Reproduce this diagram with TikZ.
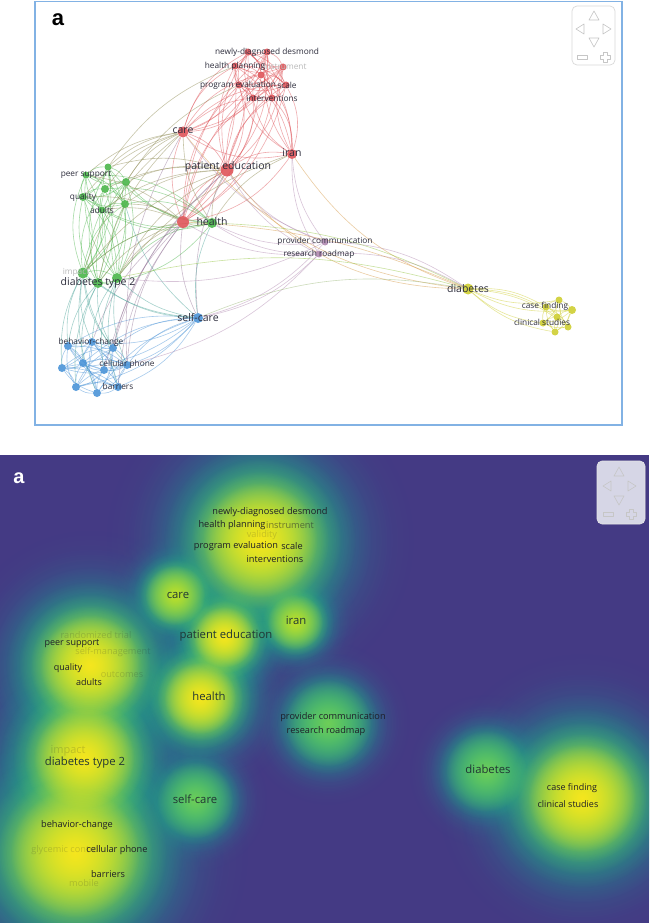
\documentclass[tikz,border=0pt]{standalone}
\usepackage{fontspec}
\setmainfont{Open Sans}
\newfontfamily\arialfont{Liberation Sans}
\usetikzlibrary{fadings}
\pgfdeclarelayer{back}
\pgfdeclarelayer{bg}
\pgfsetlayers{back,bg,main}
\definecolor{vred}{RGB}{222,80,85}
\definecolor{vgreen}{RGB}{70,180,70}
\definecolor{vblue}{RGB}{70,145,215}
\definecolor{vyellow}{RGB}{205,205,45}
\definecolor{vpurple}{RGB}{175,135,175}
\definecolor{frameblue}{RGB}{130,178,228}
\definecolor{lbl}{RGB}{45,45,60}
\definecolor{dbg}{RGB}{68,58,132}
\definecolor{vc0}{RGB}{59,86,139}
\definecolor{vc1}{RGB}{44,114,142}
\definecolor{vc2}{RGB}{33,145,140}
\definecolor{vc3}{RGB}{45,180,122}
\definecolor{vc4}{RGB}{110,206,88}
\definecolor{vc5}{RGB}{190,223,40}
\definecolor{vc6}{RGB}{245,230,30}
\definecolor{dtext}{RGB}{30,30,40}
\definecolor{wid}{RGB}{214,214,230}
\colorlet{rg}{vgreen!55!vred}
\colorlet{rb}{vred!50!vblue}
\colorlet{gb}{vgreen!45!vblue}
\colorlet{ry}{vred!45!vyellow}
\colorlet{gy}{vgreen!45!vyellow}
\colorlet{by}{vblue!40!vyellow}
\tikzfading[name=fo, inner color=transparent!0, outer color=transparent!100]
\newcommand\clique[3]{\foreach \a [count=\i] in {#1}{\foreach \b [count=\j] in {#1}{\ifnum\j>\i\relax\pgfmathtruncatemacro\bb{mod(\i+\j,2)==0 ? #3 : -#3}\draw[lnk=#2] (\a) to[bend left=\bb] (\b);\fi}}}
% density blobs: x/y/size/level
\newcommand\bloblist{295/622/13/3, 175/595/14/3, 328/723/17/2, 195/800/15/2, 486/771/16/2, 200/698/20/4, 224/637/17/4, 260/540/32/4, 90/665/28/4, 84/758/28/4, 75/853/36/4, 582/798/30/4}
\begin{document}
\begin{tikzpicture}[x=1pt,y=-1pt,
  lnk/.style={draw=#1, line width=0.6pt, draw opacity=0.48},
  nd/.style={circle, inner sep=0pt, minimum size=#1, fill opacity=0.88, draw=none},
  rn/.style={nd=#1, fill=vred}, rn/.default=7pt,
  gn/.style={nd=#1, fill=vgreen}, gn/.default=8pt,
  bn/.style={nd=#1, fill=vblue}, bn/.default=8pt,
  yn/.style={nd=#1, fill=vyellow}, yn/.default=7pt,
  pn/.style={nd=#1, fill=vpurple}, pn/.default=7pt,
  lab/.style={text=lbl, inner sep=0pt, font=\fontsize{8.3}{9}\selectfont},
  labM/.style={text=lbl, inner sep=0pt, font=\fontsize{10.5}{11}\selectfont},
  flab/.style={lab, text=gray!55},
  dlab/.style={text=dtext, inner sep=0pt, font=\fontsize{9.2}{10}\selectfont},
  dlabS/.style={text=dtext, inner sep=0pt, font=\fontsize{9}{10}\selectfont},
  dlabM/.style={text=dtext!85!vc3, inner sep=0pt, font=\fontsize{11.3}{12}\selectfont},
  dflab/.style={dlab, text=dtext, text opacity=0.18},
  navtri/.style={draw=gray!45, line width=0.6pt, line join=round},
]
\useasboundingbox (0,0) rectangle (649,923);
\begin{pgfonlayer}{back}
\fill[white] (0,0) rectangle (649,923);
\end{pgfonlayer}

% ================= top panel: network =================
\draw[frameblue, line width=1.3pt] (35,1.5) rectangle (622,425);
\node[font=\arialfont\bfseries\fontsize{22}{22}\selectfont, inner sep=0pt] (ta) at (58,20) {a};

% navigation widget
\draw[gray!30, line width=0.7pt, rounded corners=5pt, fill=white] (572,6) rectangle (615,65);
\draw[navtri] (594,11) -- (589,20) -- (599,20) -- cycle;
\draw[navtri] (576,29) -- (584,24) -- (584,34) -- cycle;
\draw[navtri] (611,29) -- (603,24) -- (603,34) -- cycle;
\draw[navtri] (594,47) -- (589,38) -- (599,38) -- cycle;
\draw[navtri] (577,55) rectangle (587,59);
\draw[navtri, shift={(605,57)}] (-2,-5) -- (2,-5) -- (2,-2) -- (5,-2) -- (5,2) -- (2,2) -- (2,5) -- (-2,5) -- (-2,2) -- (-5,2) -- (-5,-2) -- (-2,-2) -- cycle;

% nodes
\node[rn] (r1) at (248,52) {};
\node[rn] (r2) at (267,52) {};
\node[rn] (r3) at (235,66) {};
\node[rn] (r4) at (283,67) {};
\node[rn] (r5) at (261,75) {};
\node[rn] (r6) at (239,85) {};
\node[rn] (r7) at (286,85) {};
\node[rn] (r8) at (253,98) {};
\node[rn] (r9) at (272,98) {};
\node[rn=11pt] (care) at (183,132) {};
\node[rn=10pt] (iran) at (292,154) {};
\node[rn=13pt] (pe) at (227,170) {};
\node[rn=12pt] (rh) at (183,222) {};
\node[gn=7pt] (g1) at (108,167) {};
\node[gn=7pt] (g2) at (86,175) {};
\node[gn] (g3) at (126,182) {};
\node[gn] (g4) at (105,189) {};
\node[gn] (g5) at (83,197) {};
\node[gn] (g6) at (125,204) {};
\node[gn=7pt] (g7) at (102,210) {};
\node[gn=10pt] (health) at (212,223) {};
\node[gn=11pt] (d1) at (83,273) {};
\node[gn=10pt] (d2) at (98,283) {};
\node[gn=10pt] (d3) at (117,278) {};
\node[bn=10pt] (sc) at (198,318) {};
\node[bn] (b1) at (68,346) {};
\node[bn] (b2) at (92,342) {};
\node[bn] (b3) at (113,348) {};
\node[bn] (b4) at (62,368) {};
\node[bn] (b5) at (83,363) {};
\node[bn] (b6) at (104,370) {};
\node[bn] (b7) at (127,365) {};
\node[bn] (b8) at (76,387) {};
\node[bn] (b9) at (97,393) {};
\node[bn] (b10) at (118,387) {};
\node[pn] (pc) at (325,242) {};
\node[pn] (rr) at (319,254) {};
\node[yn=11pt] (diab) at (468,289) {};
\node[yn] (y1) at (559,300) {};
\node[yn] (y2) at (546,307) {};
\node[yn=8pt] (y3) at (572,310) {};
\node[yn] (y4) at (557,317) {};
\node[yn] (y5) at (543,323) {};
\node[yn] (y6) at (568,327) {};
\node[yn] (y7) at (555,332) {};

\begin{pgfonlayer}{bg}
\clique{r1,r2,r3,r4,r5,r6,r7,r8,r9,care,iran,pe,rh}{vred}{22}
\clique{g1,g2,g3,g4,g5,g6,g7,health,d1,d2,d3}{vgreen}{22}
\clique{b1,b2,b3,b4,b5,b6,b7,b8,b9,b10,sc}{vblue}{18}
\clique{diab,y1,y2,y3,y4,y5,y6,y7}{vyellow}{16}
\foreach \a/\b/\c in {g1/care/rg,g2/care/rg,g3/care/rg,g4/care/rg,g5/care/rg,g1/pe/rg,g3/pe/rg,g4/pe/rg,g6/pe/rg,g7/pe/rg,g2/rh/rg,g5/rh/rg,g6/rh/rg,g7/rh/rg,d1/rh/rg,d2/rh/rg,d3/rh/rg,d1/pe/rg,d3/pe/rg,d2/care/rg,d1/care/rg,health/care/rg,health/pe/rg,health/rh/rg,g3/r6/rg,g1/r3/rg,d3/iran/rg,health/iran/rg,
  b2/rh/rb,b3/rh/rb,b7/rh/rb,b6/pe/rb,b3/pe/rb,b7/care/rb,sc/rh/rb,sc/pe/rb,b10/rh/rb,
  b1/d1/gb,b2/d1/gb,b3/d2/gb,b4/d1/gb,b5/d2/gb,b6/d3/gb,b7/d3/gb,b8/d2/gb,b9/d1/gb,b10/d3/gb,b2/d3/gb,b1/d2/gb,sc/d1/gb,sc/d2/gb,sc/d3/gb,sc/health/gb,b3/d1/gb,b7/d1/gb,sc/g6/gb,
  pc/pe/vpurple,pc/iran/vpurple,rr/pe/vpurple,rr/iran/vpurple,pc/care/vpurple,rr/rh/vpurple,rr/sc/vpurple,pc/sc/vpurple,pc/health/vpurple,rr/health/vpurple,pc/diab/vpurple,rr/diab/vpurple,pc/d3/vpurple,rr/b7/vpurple}
  {\draw[lnk=\c] (\a) to[bend left=16] (\b);}
\foreach \a/\b/\c/\d in {diab/pe/ry/25,diab/iran/ry/18,diab/care/ry/22,diab/health/gy/-12,diab/d3/gy/-14,diab/sc/by/-16,diab/rh/ry/-10}
  {\draw[lnk=\c] (\a) to[bend left=\d] (\b);}
\end{pgfonlayer}

% labels
\node[flab] (lI) at (285,66) {instrument};
\node[flab] (lImp) at (76,272) {impact};
\node[lab] (lND) at (267,52) {newly-diagnosed desmond};
\node[lab] (lHP) at (235,66) {health planning};
\node[lab] (lPE) at (238,85) {program evaluation};
\node[lab] (lSc) at (287,85) {scale};
\node[lab] (lInt) at (272,98) {interventions};
\node[labM] (lCare) at (183,131) {care};
\node[labM] (lIran) at (292,153) {iran};
\node[labM] (lPed) at (228,167) {patient education};
\node[lab] (lPS) at (86,175) {peer support};
\node[lab] (lQ) at (83,197) {quality};
\node[lab] (lAd) at (102,210) {adults};
\node[labM] (lHe) at (212,222) {health};
\node[labM] (lDT) at (98,283) {diabetes type 2};
\node[labM] (lSC) at (198,318) {self-care};
\node[lab] (lBC) at (91,342) {behavior-change};
\node[lab] (lCP) at (127,364) {cellular phone};
\node[lab] (lBa) at (118,386) {barriers};
\node[lab] (lPC) at (325,241) {provider communication};
\node[lab] (lRR) at (319,254) {research roadmap};
\node[labM] (lDi) at (468,289) {diabetes};
\node[lab] (lCF) at (545,306) {case finding};
\node[lab] (lCS) at (542,322) {clinical studies};

% ================= bottom panel: density =================
\begin{scope}
\clip (0,455) rectangle (649,923);
\fill[dbg] (0,455) rectangle (649,923);
\foreach \m/\c/\lv in {4.8/vc0/0, 4.1/vc1/0, 3.5/vc2/1, 3.0/vc3/1, 2.55/vc4/2, 2.15/vc5/3, 1.8/vc6/4}{
  \foreach \x/\y/\rr/\bl in \bloblist {
    \ifnum\bl<\lv\relax\else
      \fill[\c, path fading=fo] (\x,\y) circle ({\m*\rr*1pt});
    \fi}}
\end{scope}

\node[font=\arialfont\bfseries\fontsize{20}{20}\selectfont, text=white, inner sep=0pt] (ba) at (19,478) {a};
\draw[gray!20, line width=0.6pt, rounded corners=5pt, fill=wid] (597,461) rectangle (645,524);
\draw[navtri] (619,467) -- (614,476) -- (624,476) -- cycle;
\draw[navtri] (603,486) -- (611,481) -- (611,491) -- cycle;
\draw[navtri] (636,486) -- (628,481) -- (628,491) -- cycle;
\draw[navtri] (619,505) -- (614,496) -- (624,496) -- cycle;
\draw[navtri] (603,512) rectangle (613,516);
\draw[navtri, shift={(631,514)}] (-2,-5) -- (2,-5) -- (2,-2) -- (5,-2) -- (5,2) -- (2,2) -- (2,5) -- (-2,5) -- (-2,2) -- (-5,2) -- (-5,-2) -- (-2,-2) -- cycle;

\node[dflab] (dVa) at (262,535) {validity};
\node[dflab] (dRT) at (96,635) {randomized trial};
\node[dflab] (dSM) at (113,652) {self-management};
\node[dflab] (dOu) at (122,675) {outcomes};
\node[dflab, font=\fontsize{11}{12}\selectfont] (dIm) at (68,751) {impact};
\node[dflab] (dGC) at (66,850) {glycemic control};
\node[dflab] (dMo) at (84,883) {mobile};
\node[dlab, text opacity=0.55] (dIn) at (290,525) {instrument};
\node[dlab] (dND) at (270,512) {newly-diagnosed desmond};
\node[dlab] (dHP) at (232,525) {health planning};
\node[dlab] (dPE) at (236,546) {program evaluation};
\node[dlab] (dSc) at (292,546) {scale};
\node[dlab] (dInt) at (275,559) {interventions};
\node[dlabM] (dCare) at (178,595) {care};
\node[dlabM] (dIran) at (296,620) {iran};
\node[dlabM] (dPed) at (226,636) {patient education};
\node[dlabS] (dPS) at (72,644) {peer support};
\node[dlabS] (dQ) at (68,668) {quality};
\node[dlabS] (dAd) at (89,682) {adults};
\node[dlabM] (dHe) at (209,696) {health};
\node[dlab] (dPC) at (333,717) {provider communication};
\node[dlab] (dRR) at (326,731) {research roadmap};
\node[dlabM] (dDT) at (85,763) {diabetes type 2};
\node[dlabM] (dSC) at (195,799) {self-care};
\node[dlabM] (dDi) at (488,769) {diabetes};
\node[dlabS] (dCF) at (572,788) {case finding};
\node[dlabS] (dCS) at (568,804) {clinical studies};
\node[dlab] (dBC) at (77,825) {behavior-change};
\node[dlab] (dCP) at (117,850) {cellular phone};
\node[dlab] (dBa) at (108,874) {barriers};
\end{tikzpicture}
\end{document}
